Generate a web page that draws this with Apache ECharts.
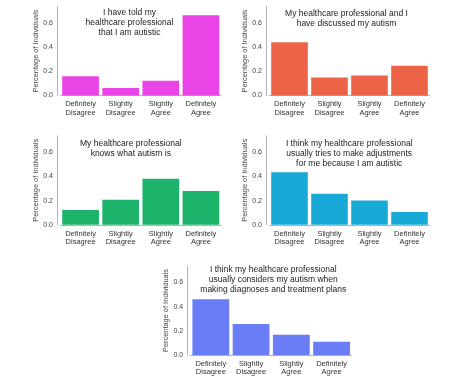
<!DOCTYPE html>
<html>
<head>
<meta charset="utf-8">
<script src="https://cdn.jsdelivr.net/npm/echarts@6/dist/echarts.min.js"></script>
<style>html,body{margin:0;padding:0;background:#fff;}#c{width:470px;height:378px;}</style>
</head>
<body>
<div id="c"></div>
<script>
// ---- data ----
var categories = ['Definitely\nDisagree', 'Slightly\nDisagree', 'Slightly\nAgree', 'Definitely\nAgree'];
var toldValues = [0.16, 0.062, 0.122, 0.662];
var discussedValues = [0.44, 0.149, 0.166, 0.245];
var knowsValues = [0.123, 0.206, 0.381, 0.28];
var adjustValues = [0.434, 0.257, 0.2, 0.105];
var considersValues = [0.46, 0.256, 0.167, 0.11];
var titles = [
  'I have told my\nhealthcare professional\nthat I am autistic',
  'My healthcare professional and I\nhave discussed my autism',
  'My healthcare professional\nknows what autism is',
  'I think my healthcare professional\nusually tries to make adjustments\nfor me because I am autistic',
  'I think my healthcare professional\nusually considers my autism when\nmaking diagnoses and treatment plans'
];
var yTicks = [0, 0.2, 0.4, 0.6];
var yAxisTitle = 'Percentage of Individuals';

// ---- layout / style ----
var seriesData = [toldValues, discussedValues, knowsValues, adjustValues, considersValues];
var colors = ['#E944E6', '#EC6348', '#1DB36A', '#18A9D6', '#6A7CF6'];
var grids = [
  {left: 60.5, top: 6.5, width: 160.5, height: 89},
  {left: 269.5, top: 6.5, width: 160, height: 89},
  {left: 60.5, top: 135.8, width: 160.5, height: 89},
  {left: 269.5, top: 135.8, width: 160, height: 89},
  {left: 190.7, top: 266, width: 161, height: 89}
];
var titlePos = [
  {x: 129.5, y: 7.3},
  {x: 346.5, y: 8.3},
  {x: 130.8, y: 139},
  {x: 349.2, y: 138.3},
  {x: 273.3, y: 265}
];
var FONT = '"Liberation Sans", Arial, sans-serif';
var axisColor = '#b3b3b3';

var option = {
  animation: false,
  backgroundColor: '#ffffff',
  grid: [], xAxis: [], yAxis: [], series: [], title: []
};

for (var i = 0; i < 5; i++) {
  option.grid.push(grids[i]);
  option.xAxis.push({
    type: 'category', gridIndex: i, data: categories, offset: 3.5,
    axisLine: {show: true, lineStyle: {color: axisColor, width: 1}},
    axisTick: {show: false},
    axisLabel: {color: '#333', fontFamily: FONT, fontSize: 7.5, lineHeight: 8.3, margin: 1, interval: 0}
  });
  option.yAxis.push({
    type: 'value', gridIndex: i, min: 0, max: 0.735, interval: yTicks[1] - yTicks[0], offset: 3.5,
    axisLine: {show: true, lineStyle: {color: axisColor, width: 1}},
    axisTick: {show: false},
    splitLine: {show: false},
    axisLabel: {color: '#444', fontFamily: FONT, fontSize: 7, margin: 4, showMaxLabel: false,
      formatter: function (v) { return v.toFixed(1); }},
    name: yAxisTitle, nameLocation: 'middle', nameGap: 16,
    nameTextStyle: {color: '#444', fontFamily: FONT, fontSize: 7.4}
  });
  option.series.push({
    type: 'bar', xAxisIndex: i, yAxisIndex: i, data: seriesData[i],
    barCategoryGap: '8.5%',
    itemStyle: {color: colors[i]}
  });
  option.title.push({
    text: titles[i], left: titlePos[i].x, top: titlePos[i].y, textAlign: 'center', padding: 0,
    textStyle: {color: '#222', fontFamily: FONT, fontSize: 8.5, fontWeight: 'normal', lineHeight: 10}
  });
}

var chart = echarts.init(document.getElementById('c'), null, {renderer: 'canvas'});
chart.setOption(option);
</script>
</body>
</html>
